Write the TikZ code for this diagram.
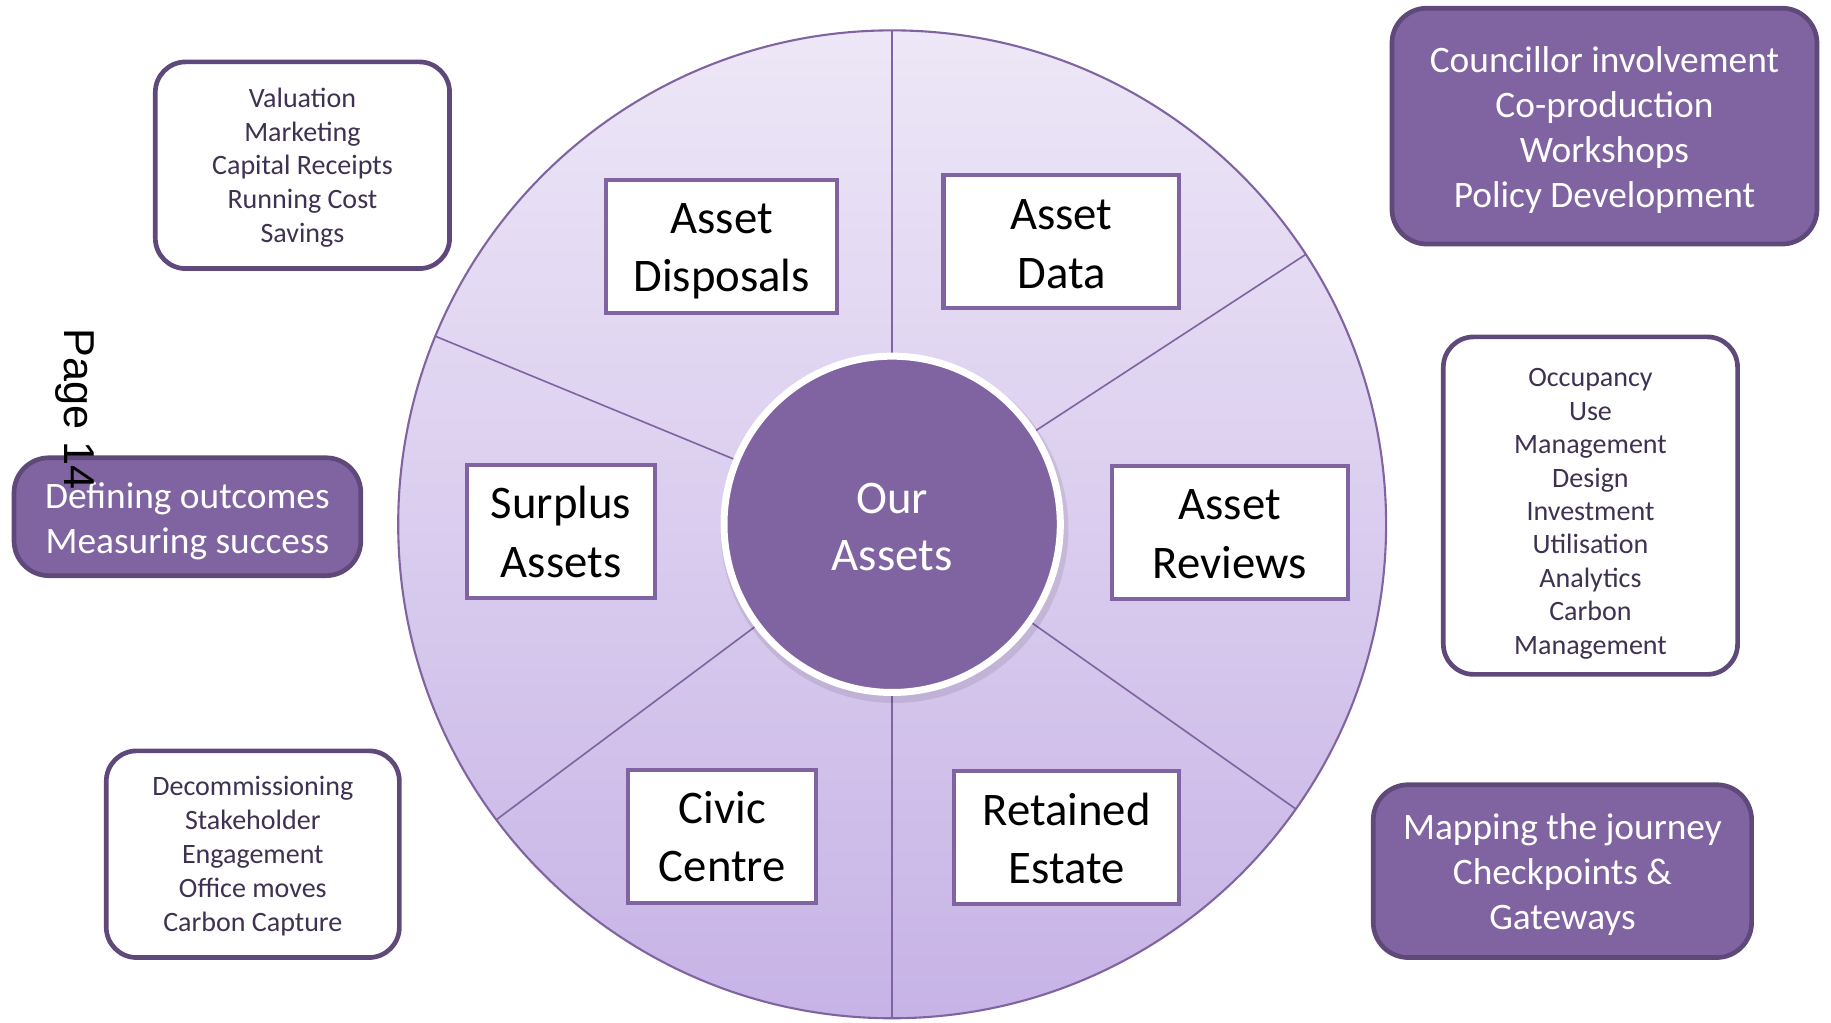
\documentclass[tikz,border=0pt]{standalone}
\usepackage{fontspec}
\usetikzlibrary{calc}
\setmainfont{Carlito}
\newfontfamily\pagefont{Liberation Sans}
\definecolor{accent}{HTML}{8064A2}
\definecolor{deeppurple}{HTML}{5F497A}
\definecolor{notetext}{HTML}{3F3151}
\definecolor{wheeltop}{RGB}{237,231,247}
\definecolor{wheelbottom}{RGB}{199,179,230}

\tikzset{
  assetbox/.style={draw=accent, line width=3.5pt, fill=white, inner sep=0pt},
  assettext/.style={inner sep=0pt, align=center, text=black, font=\fontsize{40}{50}\selectfont},
  notebox/.style={draw=deeppurple, line width=4pt, fill=white, rounded corners=26pt, inner sep=0pt},
  notetextstyle/.style={inner sep=0pt, align=center, text=notetext, font=\fontsize{24}{29}\selectfont},
  calloutbox/.style={draw=deeppurple, line width=4pt, fill=accent, rounded corners=30pt, inner sep=0pt},
  callouttext/.style={inner sep=0pt, align=center, text=white, font=\fontsize{32}{38.5}\selectfont},
  divider/.style={draw=accent, line width=1.4pt},
}

\begin{document}
\begin{tikzpicture}[x=1pt,y=-1pt]
\useasboundingbox (0,0) rectangle (1568,876);

% outer wheel
\coordinate (c) at (764,449);
\fill[top color=wheeltop, bottom color=wheelbottom] (c) circle[radius=423];
\draw[accent, line width=1.8pt] (c) circle[radius=423];

% rim points of the six spokes
\coordinate (rimT)  at (764,26);
\coordinate (rimB)  at (764,872);
\coordinate (rimUL) at (373,288);
\coordinate (rimUR) at (1118,218);
\coordinate (rimLL) at (425,702);
\coordinate (rimLR) at (1110,693);
\foreach \p in {rimT,rimB,rimUL,rimUR,rimLL,rimLR}
  \draw[divider] (c) -- (\p);

% hub
\fill[black, opacity=0.09] ($(c)+(2,4)$) circle[radius=149];
\node[circle, fill=accent, draw=white, line width=6pt, minimum size=288pt,
      inner sep=0pt] (hub) at (c) {};
\node[inner sep=0pt, align=center, text=white, font=\fontsize{40}{49}\selectfont]
  (hubtext) at ($(hub.center)+(0,2)$) {Our\\Assets};

% spoke labels
\node[assetbox, minimum width=198pt, minimum height=114pt] (disposals) at (618,211) {};
\node[assettext] (disposalstext) at ($(disposals.center)+(0,4)$) {Asset\\Disposals};
\node[assetbox, minimum width=202pt, minimum height=114pt] (data) at (909,207) {};
\node[assettext] (datatext) at ($(data.center)+(0,2)$) {Asset\\Data};
\node[assetbox, minimum width=161pt, minimum height=114pt] (surplus) at (480.5,455) {};
\node[assettext] (surplustext) at ($(surplus.center)+(0,0.5)$) {Surplus\\Assets};
\node[assetbox, minimum width=202pt, minimum height=114pt] (reviews) at (1053,456) {};
\node[assettext] (reviewstext) at ($(reviews.center)+(0,1.5)$) {Asset\\Reviews};
\node[assetbox, minimum width=161pt, minimum height=114pt] (civic) at (618.5,716) {};
\node[assettext] (civictext) at ($(civic.center)+(0,0.5)$) {Civic\\Centre};
\node[assetbox, minimum width=193pt, minimum height=114pt] (retained) at (913.5,717) {};
\node[assettext] (retainedtext) at ($(retained.center)+(0,1)$) {Retained\\Estate};

% detail lists
\node[notebox, minimum width=252pt, minimum height=177pt] (valuation) at (259,141.5) {};
\node[notetextstyle] (valuationtext) at ($(valuation.center)+(0,2)$)
  {Valuation\\Marketing\\Capital Receipts\\Running Cost\\Savings};
\node[notebox, minimum width=252pt, minimum height=289pt] (occupancy) at (1362,433) {};
\node[notetextstyle, font=\fontsize{24}{28.6}\selectfont] (occupancytext) at ($(occupancy.center)+(0,7)$)
  {Occupancy\\Use\\Management\\Design\\Investment\\Utilisation\\Analytics\\Carbon\\Management};
\node[notebox, minimum width=251pt, minimum height=177pt] (decomm) at (216.5,731.5) {};
\node[notetextstyle] (decommtext) at ($(decomm.center)+(0,1.5)$)
  {Decommissioning\\Stakeholder\\Engagement\\Office moves\\Carbon Capture};

% callouts
\node[calloutbox, minimum width=364pt, minimum height=202pt] (councillor) at (1374,108) {};
\node[callouttext] (councillortext) at ($(councillor.center)+(0,3)$)
  {Councillor involvement\\Co-production\\Workshops\\Policy Development};
\node[calloutbox, minimum width=297pt, minimum height=101pt] (outcomes) at (160.5,442.5) {};
\node[callouttext] (outcomestext) at ($(outcomes.center)+(0,4)$)
  {Defining outcomes\\Measuring success};
\node[calloutbox, minimum width=324pt, minimum height=148pt] (journey) at (1338,746) {};
\node[callouttext] (journeytext) at ($(journey.center)+(0,3)$)
  {Mapping the journey\\Checkpoints \&\\Gateways};

% page number
\node[rotate=-90, text=black, inner sep=0pt, font=\pagefont\fontsize{37}{44}\selectfont]
  (pagenum) at (64,350) {Page 14};
\end{tikzpicture}
\end{document}
